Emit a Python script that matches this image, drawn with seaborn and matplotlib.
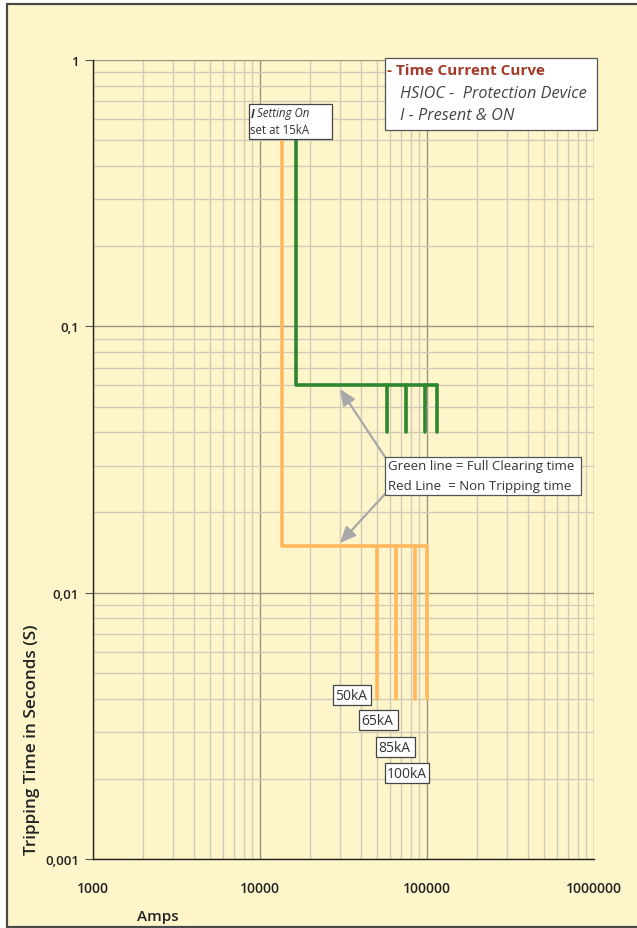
import matplotlib
matplotlib.use("Agg")
import matplotlib.pyplot as plt
from matplotlib.patches import Rectangle
from matplotlib.ticker import LogLocator, FixedLocator, NullFormatter
import numpy as np
import pandas as pd
import seaborn as sns

# ---- data ----
pickup_nontrip_A = 13500      # orange (non tripping) pickup current
pickup_clear_A = 16500        # green (full clearing) pickup current
fault_kA = [50, 65, 85, 100]
fault_nontrip_A = [50000, 65000, 85000, 100000]
fault_clear_A = [57500, 74750, 97750, 115000]
time_top = 0.5
time_nontrip = 0.015
time_clear = 0.06
time_nontrip_end = 0.004
time_clear_end = 0.04
x_ticks = [1000, 10000, 100000, 1000000]
x_tick_labels = ["1000", "10000", "100000", "1000000"]
y_ticks = [0.001, 0.01, 0.1, 1]
y_tick_labels = ["0,001", "0,01", "0,1", "1"]
fault_labels = ["50kA", "65kA", "85kA", "100kA"]

# ---- build segment table ----
rows = []
def add_seg(curve, seg, xs, ys):
    for x, y in zip(xs, ys):
        rows.append({"curve": curve, "seg": seg, "amps": x, "time": y})

add_seg("nontrip", "n0", [pickup_nontrip_A, pickup_nontrip_A, fault_nontrip_A[-1]],
        [time_top, time_nontrip, time_nontrip])
for i, fa in enumerate(fault_nontrip_A):
    add_seg("nontrip", f"n{i+1}", [fa, fa], [time_nontrip, time_nontrip_end])
add_seg("clear", "c0", [pickup_clear_A, pickup_clear_A, fault_clear_A[-1]],
        [time_top, time_clear, time_clear])
for i, fa in enumerate(fault_clear_A):
    add_seg("clear", f"c{i+1}", [fa, fa], [time_clear, time_clear_end])
df = pd.DataFrame(rows)

bg = "#FEF6CA"
sns.set_theme(style="white")
plt.rcParams["font.family"] = ["Open Sans", "DejaVu Sans"]

W, H = 637, 929
def fx(px):
    return px / W
def fy(py):
    return 1 - py / H

fig = plt.figure(figsize=(6.37, 9.29), dpi=100, facecolor="white")
fig.patches.append(Rectangle((fx(7), 1 / H), 1.0, 1 - 6 / H,
                             transform=fig.transFigure, facecolor=bg,
                             edgecolor="#4a4a4a", linewidth=1.6, zorder=-10))
ax = fig.add_axes([fx(93), fy(860), 501 / W, 799 / H])
ax.set_facecolor(bg)
ax.set_xscale("log")
ax.set_yscale("log")
ax.set_xlim(1000, 1000000)
ax.set_ylim(0.001, 1)

# grid
ax.xaxis.set_minor_locator(LogLocator(base=10, subs=np.arange(2, 10)))
ax.yaxis.set_minor_locator(LogLocator(base=10, subs=np.arange(2, 10)))
ax.xaxis.set_minor_formatter(NullFormatter())
ax.yaxis.set_minor_formatter(NullFormatter())
ax.grid(which="minor", color="#cfcbb8", linewidth=1.0, zorder=1)
ax.grid(which="major", color="#9b9580", linewidth=1.0, zorder=1)
ax.set_axisbelow(True)

sns.lineplot(data=df, x="amps", y="time", hue="curve", units="seg",
             estimator=None, sort=False, legend=False, ax=ax,
             palette={"nontrip": "#FFB85E", "clear": "#2E862E"},
             linewidth=2.6, zorder=3)
ax.set_xlabel("")
ax.set_ylabel("")

# ticks
ax.xaxis.set_major_locator(FixedLocator(x_ticks))
ax.yaxis.set_major_locator(FixedLocator(y_ticks))
ax.set_xticklabels(x_tick_labels, fontsize=10, fontweight="semibold", color="#222222")
ax.set_yticklabels(y_tick_labels, fontsize=9.5, fontweight="semibold", color="#222222")
ax.tick_params(axis="y", which="major", length=6, width=0.8, color="#555555",
               left=True, pad=4)
ax.tick_params(axis="x", which="major", length=0, pad=16)
ax.tick_params(which="minor", length=0)

for side in ["top", "right"]:
    ax.spines[side].set_visible(False)
for side in ["left", "bottom"]:
    ax.spines[side].set_color("#222222")
    ax.spines[side].set_linewidth(1.0)

fig.text(fx(158), fy(917), "Amps", fontsize=11, fontweight="semibold",
         color="#222222", ha="center", va="center")
fig.text(fx(32), fy(740), "Tripping Time in Seconds (S)", fontsize=12.3,
         fontweight="semibold", color="#222222", rotation=90,
         ha="center", va="center")


def box(x0, y0, x1, y1, ec="#444444"):
    fig.patches.append(Rectangle((fx(x0), fy(y1)), (x1 - x0) / W, (y1 - y0) / H,
                                 transform=fig.transFigure, facecolor="white",
                                 edgecolor=ec, linewidth=0.9, zorder=5))


# setting box
box(249, 105, 332, 140)
fig.text(fx(251), fy(114), "I", fontsize=8.3, color="#333333",
         fontstyle="italic", fontweight="bold", ha="left", va="center", zorder=6)
fig.text(fx(257), fy(114), "Setting On", fontsize=8.3, color="#333333",
         fontstyle="italic", ha="left", va="center", zorder=6)
fig.text(fx(250), fy(130), "set at 15kA", fontsize=8.3, color="#333333",
         ha="left", va="center", zorder=6)

# title box
box(385, 59, 597, 131, ec="#555555")
fig.text(fx(387), fy(71), "- Time Current Curve", fontsize=11, fontweight="bold",
         color="#A33A28", ha="left", va="center", zorder=6)
fig.text(fx(400), fy(94), "HSIOC -  Protection Device", fontsize=11.7,
         fontstyle="italic", color="#444444", ha="left", va="center", zorder=6)
fig.text(fx(400), fy(116), "I - Present & ON", fontsize=11.7,
         fontstyle="italic", color="#444444", ha="left", va="center", zorder=6)

# note box with arrows
box(385, 458, 581, 496, ec="#555555")
fig.text(fx(388), fy(467), "Green line = Full Clearing time", fontsize=9.5,
         color="#333333", ha="left", va="center", zorder=6)
fig.text(fx(388), fy(487), "Red Line  = Non Tripping time", fontsize=9.5,
         color="#333333", ha="left", va="center", zorder=6)
arrow_kw = dict(arrowstyle="-|>,head_length=0.8,head_width=0.35",
                color="#a8a8a8", lw=1.6, shrinkA=0, shrinkB=0)
fig.add_artist(plt.Annotation("", xy=(fx(340), fy(390)), xytext=(fx(385), fy(458)),
                              xycoords="figure fraction", textcoords="figure fraction",
                              arrowprops=arrow_kw, zorder=4))
fig.add_artist(plt.Annotation("", xy=(fx(340), fy(544)), xytext=(fx(385), fy(495)),
                              xycoords="figure fraction", textcoords="figure fraction",
                              arrowprops=arrow_kw, zorder=4))

# fault current labels
label_boxes = [(333, 686, 371, 706), (359, 711, 398, 731),
               (376, 738, 415, 758), (385, 764, 429, 784)]
for (x0, y0, x1, y1), lab in zip(label_boxes, fault_labels):
    box(x0, y0, x1, y1)
    fig.text(fx(x0 + 2), fy((y0 + y1) / 2 + 0.5), lab, fontsize=10, color="#333333",
             ha="left", va="center", zorder=6)

fig.savefig("out.png", dpi=100, facecolor=fig.get_facecolor())
